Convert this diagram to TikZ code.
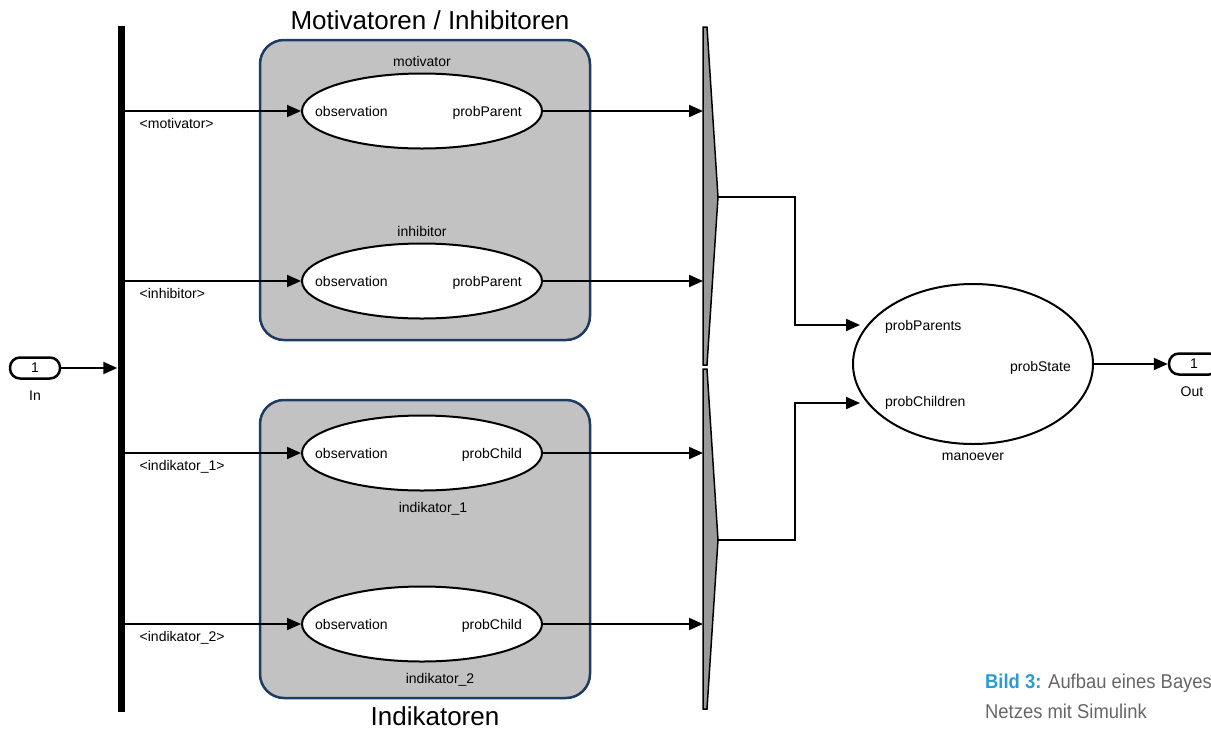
\documentclass[tikz,border=0pt]{standalone}
\usepackage{fontspec}
\setmainfont{Liberation Sans}
\usetikzlibrary{arrows.meta,shapes.geometric,positioning}

\definecolor{boxgray}{HTML}{C2C2C2}
\definecolor{boxblue}{HTML}{1E3B63}
\definecolor{muxgray}{HTML}{9A9A9A}
\definecolor{capblue}{HTML}{2B9BD6}
\definecolor{capgray}{HTML}{666666}
\newcommand{\smallfont}{\fontsize{14}{16}\selectfont}
\newcommand{\bigfont}{\fontsize{26}{30}\selectfont}

\begin{document}
\begin{tikzpicture}[x=1pt, y=-1pt, >={Triangle[length=14pt,width=12pt]},
  sig/.style={->, line width=2pt},
  group/.style={draw=boxblue, line width=2.5pt, fill=boxgray, rounded corners=24pt},
  block/.style={ellipse, draw, line width=2pt, fill=white,
                minimum width=240pt, minimum height=75pt, inner sep=0pt},
  port/.style={draw, line width=2.5pt, rounded corners=10pt, minimum width=50pt,
               minimum height=21pt, inner sep=0pt, font=\smallfont},
  txt/.style={font=\smallfont, inner sep=0pt},
  mux/.style={draw, line width=1.5pt, fill=muxgray}]

  \useasboundingbox (0,0) rectangle (1211,729);

  % groups
  \draw[group] (260,40) rectangle (590,340);
  \draw[group] (260,400) rectangle (590,698);
  \node[font=\bigfont, inner sep=0pt] (ttlmot) at (430,20) {Motivatoren / Inhibitoren};
  \node[font=\bigfont, inner sep=0pt] (ttlind) at (435,716) {Indikatoren};

  % bus and ports
  \node[fill, minimum width=7pt, minimum height=686pt, inner sep=0pt] (bus) at (121,369) {};
  \node[port] (in) at (35,368) {1};
  \node[txt, below=11pt of in] (inlbl) {In};
  \node[port] (out) at (1194,364) {1};
  \node[txt, below=11pt of out, xshift=-2pt] (outlbl) {Out};

  % blocks
  \node[block] (mot) at (422,111) {};
  \node[block] (inh) at (422,281) {};
  \node[block] (ind1) at (422,453) {};
  \node[block] (ind2) at (422,624) {};
  \foreach \b/\o in {mot/probParent, inh/probParent, ind1/probChild, ind2/probChild} {
    \node[txt, anchor=base west] at ([xshift=14pt, yshift=-5pt]\b.west) {observation};
    \node[txt, anchor=base east] at ([xshift=-21pt, yshift=-5pt]\b.east) {\o};
  }
  \node[txt, above=6pt of mot] (motlbl) {motivator};
  \node[txt, above=6pt of inh] (inhlbl) {inhibitor};
  \node[txt, below=11pt of ind1, xshift=11pt] (ind1lbl) {indikator\_1};
  \node[txt, below=11pt of ind2, xshift=18pt] (ind2lbl) {indikator\_2};

  % muxes
  \draw[mux] (703,27) -- (707,27) -- (718,197) -- (707,365) -- (703,365) -- cycle;
  \draw[mux] (703,369) -- (707,369) -- (718,540) -- (707,709) -- (703,709) -- cycle;
  \coordinate (mux1) at (703,197);
  \coordinate (mux1out) at (718,197);
  \coordinate (mux2) at (703,540);
  \coordinate (mux2out) at (718,540);

  % manoever
  \node[ellipse, draw, line width=2pt, minimum width=240pt, minimum height=160pt,
        inner sep=0pt] (man) at (973,364) {};
  \node[txt, anchor=base west] (pp) at (885,330) {probParents};
  \node[txt, anchor=base west] (pc) at (885,406) {probChildren};
  \node[txt, anchor=base east] (ps) at (1071,371) {probState};
  \node[txt, below=8pt of man] (manlbl) {manoever};
  \coordinate (pin1) at (860,325);
  \coordinate (pin2) at (860,403);

  % signals
  \draw[sig] (in.east) -- (in.east -| bus.west);
  \draw[sig] (bus.east |- mot.west) node[txt, anchor=north west, xshift=14pt, yshift=-6pt] {\textless motivator\textgreater} -- (mot.west);
  \draw[sig] (bus.east |- inh.west) node[txt, anchor=north west, xshift=14pt, yshift=-6pt] {\textless inhibitor\textgreater} -- (inh.west);
  \draw[sig] (bus.east |- ind1.west) node[txt, anchor=north west, xshift=14pt, yshift=-6pt] {\textless indikator\_1\textgreater} -- (ind1.west);
  \draw[sig] (bus.east |- ind2.west) node[txt, anchor=north west, xshift=14pt, yshift=-6pt] {\textless indikator\_2\textgreater} -- (ind2.west);
  \draw[sig] (mot.east) -- (mot.east -| mux1);
  \draw[sig] (inh.east) -- (inh.east -| mux1);
  \draw[sig] (ind1.east) -- (ind1.east -| mux2);
  \draw[sig] (ind2.east) -- (ind2.east -| mux2);
  \draw[sig] (mux1out) -- ++(77,0) |- (pin1);
  \draw[sig] (mux2out) -- ++(77,0) |- (pin2);
  \draw[sig] (man.east) -- (out.west);

  % caption
  \node[anchor=base west, inner sep=0pt, xscale=0.92, text=capgray,
        font=\fontsize{20}{24}\selectfont] (cap1) at (985,688)
        {\textcolor{capblue}{\textbf{Bild 3:}} Aufbau eines Bayes};
  \node[anchor=base west, inner sep=0pt, xscale=0.92, text=capgray,
        font=\fontsize{20}{24}\selectfont] (cap2) at (985,718)
        {Netzes mit Simulink};
\end{tikzpicture}
\end{document}
